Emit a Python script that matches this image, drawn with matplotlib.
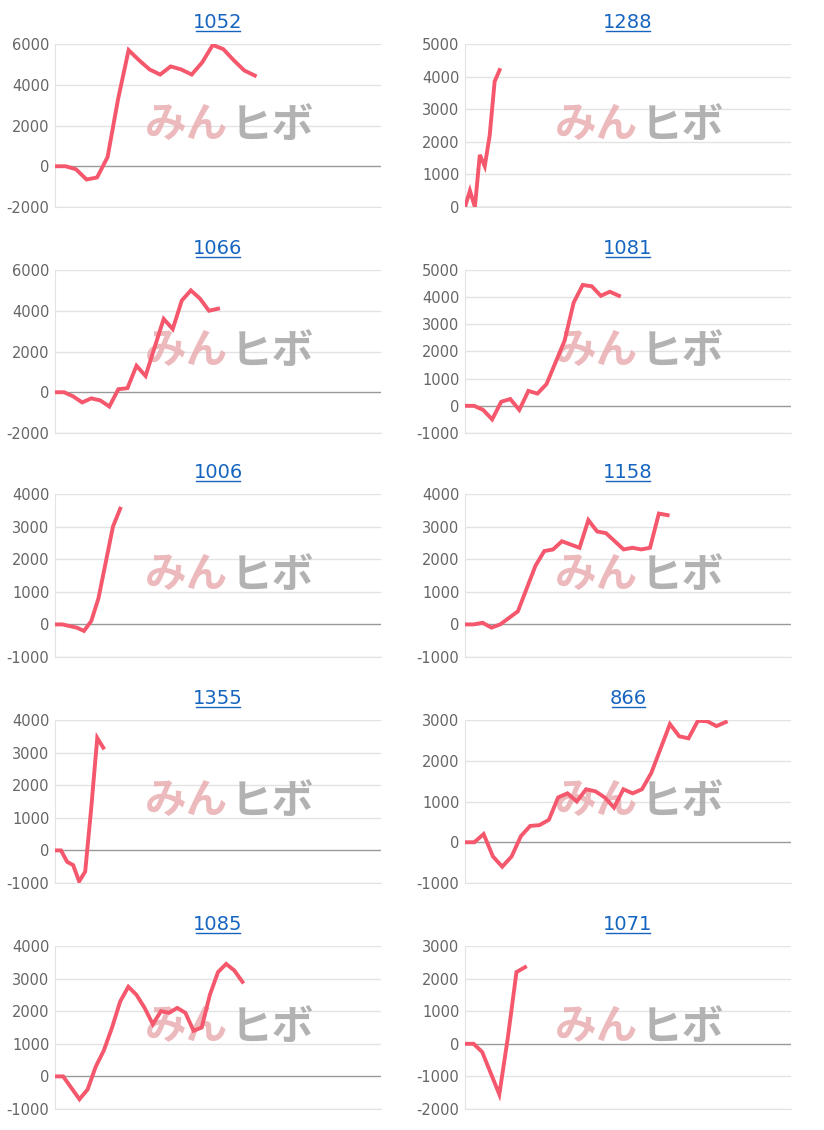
import matplotlib
matplotlib.use("Agg")
import matplotlib.pyplot as plt

titles = ["1052", "1288", "1066", "1081", "1006", "1158", "1355", "866", "1085", "1071"]
s1052 = [0, 0, -150, -650, -550, 450, 3300, 5700, 5200, 4750, 4500, 4900, 4750, 4500, 5100, 5950, 5750, 5200, 4700, 4450]
s1288 = [0, 500, 0, 1600, 1250, 2200, 3850, 4200]
s1066 = [0, 0, -200, -500, -300, -400, -700, 150, 200, 1300, 800, 2200, 3600, 3100, 4500, 5000, 4600, 4000, 4100]
s1081 = [0, 0, -150, -500, 150, 250, -150, 550, 450, 800, 1600, 2400, 3800, 4450, 4400, 4050, 4200, 4050]
s1006 = [0, 0, -50, -100, -200, 100, 800, 1900, 3000, 3550]
s1158 = [0, 0, 50, -100, 0, 200, 400, 1100, 1800, 2250, 2300, 2550, 2450, 2350, 3200, 2850, 2800, 2550, 2300, 2350, 2300, 2350, 3400, 3350]
s1355 = [0, 0, -350, -450, -950, -650, 1300, 3450, 3150]
s866 = [0, 0, 200, -350, -600, -350, 150, 400, 420, 550, 1100, 1200, 1000, 1300, 1250, 1100, 850, 1300, 1200, 1300, 1700, 2300, 2900, 2600, 2550, 2980, 2970, 2850, 2950]
s1085 = [0, 0, -350, -700, -400, 300, 800, 1500, 2300, 2750, 2500, 2100, 1600, 2000, 1950, 2100, 1950, 1400, 1500, 2500, 3200, 3450, 3250, 2900]
s1071 = [0, 0, -250, -900, -1550, 200, 2200, 2350]
series = [s1052, s1288, s1066, s1081, s1006, s1158, s1355, s866, s1085, s1071]
slots = [31, 66, 36, 36, 45, 37, 54, 35, 40, 38]
yranges = [(-2000, 6000, 2000), (0, 5000, 1000), (-2000, 6000, 2000), (-1000, 5000, 1000),
           (-1000, 4000, 1000), (-1000, 4000, 1000), (-1000, 4000, 1000), (-1000, 3000, 1000),
           (-1000, 4000, 1000), (-2000, 3000, 1000)]

W, H = 824, 1130
fig = plt.figure(figsize=(W / 100, H / 100), dpi=100)
tops = [44, 270, 494, 720, 946]
lefts = [55, 465]
aw, ah = 326, 163
for i, (t, s) in enumerate(zip(titles, series)):
    r, c = divmod(i, 2)
    x0, y0 = lefts[c], tops[r]
    ax = fig.add_axes([x0 / W, 1 - (y0 + ah) / H, aw / W, ah / H])
    lo, hi, st = yranges[i]
    ax.set_ylim(lo, hi)
    ax.set_xlim(0, slots[i])
    ticks = list(range(lo, hi + 1, st))
    ax.set_yticks(ticks)
    ax.set_yticklabels([str(v) for v in ticks], color="#666666", fontsize=10.5)
    ax.set_xticks([])
    for v in ticks:
        ax.axhline(v, color="#999999" if v == 0 else "#e3e3e3", lw=1, zorder=1)
    for sp in ["top", "right"]:
        ax.spines[sp].set_visible(False)
    ax.spines["left"].set_color("#e3e3e3")
    ax.spines["bottom"].set_color("#e3e3e3")
    ax.tick_params(axis="y", length=0, pad=4)
    ax.text(0.53, 0.5, "みん", transform=ax.transAxes, fontsize=30, color="#e8a8ac", alpha=0.8,
            fontweight="bold", style="italic", ha="right", va="center", family=["Noto Sans CJK JP"], zorder=2)
    ax.text(0.54, 0.5, "ヒボ", transform=ax.transAxes, fontsize=30, color="#aaaaaa", alpha=0.9,
            fontweight="bold", style="italic", ha="left", va="center", family=["Noto Sans CJK JP"], zorder=2)
    ax.plot(range(len(s)), s, color="#f5576c", lw=2.8, zorder=3, solid_joinstyle="miter")
    fig.text((x0 + 163) / W, 1 - (y0 - 16) / H, t, ha="center", va="baseline", fontsize=14,
             color="#1565c0")
    tw = len(t) * 11
    fig.add_artist(plt.Line2D([(x0 + 163 - tw / 2) / W, (x0 + 163 + tw / 2) / W],
                              [1 - (y0 - 13) / H] * 2, color="#1565c0", lw=1))
fig.savefig("out.png", dpi=100, facecolor="white")
